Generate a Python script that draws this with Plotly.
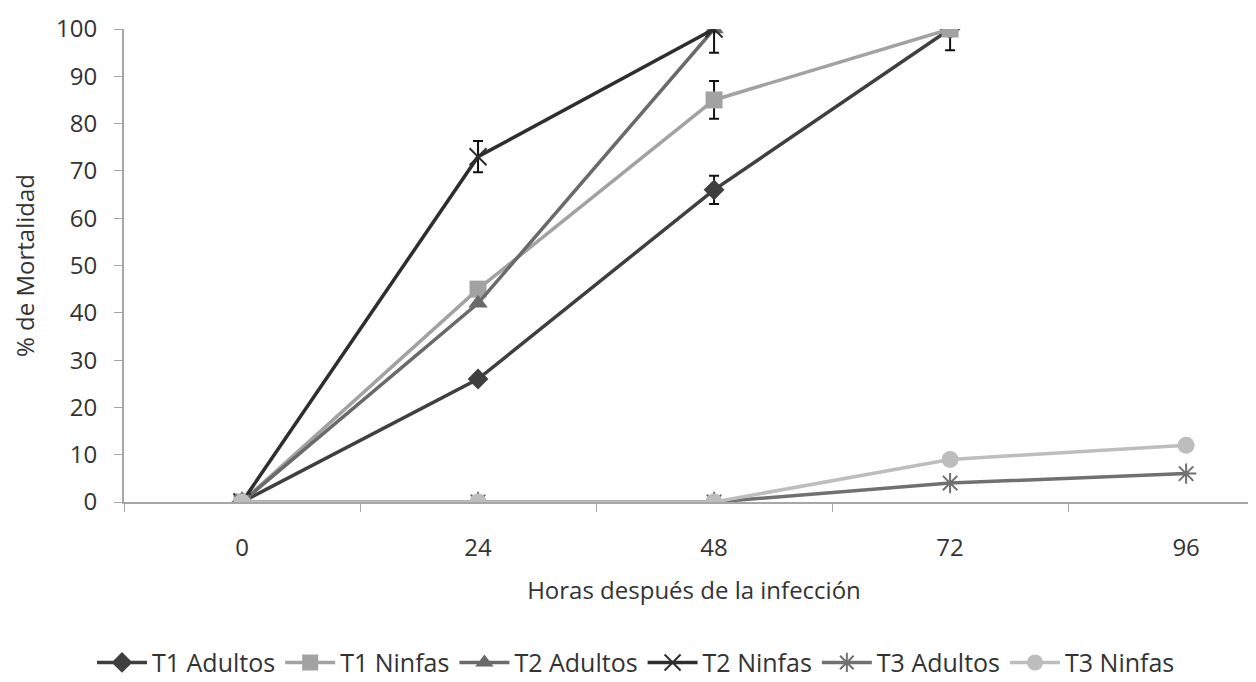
import plotly.graph_objects as go

hours = ["0", "24", "48", "72", "96"]

t1_adultos = [0, 26, 66, 100, None]
t1_ninfas = [0, 45, 85, 100, None]
t2_adultos = [0, 42, 100, None, None]
t2_ninfas = [0, 73, 100, None, None]
t3_adultos = [0, 0, 0, 4, 6]
t3_ninfas = [0, 0, 0, 9, 12]

nan = float("nan")
t1_adultos_err = [nan, nan, 3, 4.5, nan]
t1_ninfas_err = [nan, nan, 4, nan, nan]
t2_ninfas_err = [nan, 3.3, 5, nan, nan]

series = [
    ("T1 Adultos", t1_adultos, t1_adultos_err, "#3f3f3f", "diamond", 16),
    ("T1 Ninfas", t1_ninfas, t1_ninfas_err, "#a2a2a2", "square", 17),
    ("T2 Adultos", t2_adultos, None, "#6a6a6a", "triangle-up", 17),
    ("T2 Ninfas", t2_ninfas, t2_ninfas_err, "#2e2e2e", "x-thin", 17),
    ("T3 Adultos", t3_adultos, None, "#707070", "asterisk", 17),
    ("T3 Ninfas", t3_ninfas, None, "#bdbdbd", "circle", 17),
]

fig = go.Figure()
for name, ys, err, color, sym, size in series:
    marker = dict(symbol=sym, size=size, color=color)
    if sym in ("x-thin", "asterisk"):
        marker["line"] = dict(color=color, width=2)
    tr = go.Scatter(
        x=hours, y=ys, name=name, mode="lines+markers",
        line=dict(color=color, width=3.5),
        marker=marker,
    )
    if err is not None:
        tr.error_y = dict(type="data", array=err, visible=True,
                          color="#111111", thickness=2, width=5)
    fig.add_trace(tr)

font = "'Open Sans', Lato, sans-serif"
fig.update_layout(
    width=1256, height=682,
    paper_bgcolor="white", plot_bgcolor="white",
    margin=dict(l=116, r=0, t=21, b=188),
    font=dict(family=font, size=24, color="#333333"),
    showlegend=True,
    legend=dict(orientation="h", xref="container", yref="container",
                x=0.5, xanchor="center", y=0.04, yanchor="middle",
                font=dict(size=25, color="#333333"), itemwidth=50,
                traceorder="normal"),
    xaxis=dict(type="category", range=[-0.5, 4.33], showgrid=False,
               showline=True, linecolor="#a6a6a6", linewidth=2,
               ticks="outside", tickson="boundaries", ticklen=8,
               tickcolor="#a6a6a6", tickwidth=1,
               ticklabelstandoff=23,
               title=dict(text="Horas después de la infección", standoff=20,
                          font=dict(size=24))),
    yaxis=dict(range=[0, 100], dtick=10, showgrid=False, zeroline=False,
               showline=True, linecolor="#a6a6a6", linewidth=2,
               ticks="outside", ticklen=8, tickcolor="#a6a6a6",
               ticklabelstandoff=12,
               title=dict(text="% de Mortalidad", standoff=20,
                          font=dict(size=24))),
)

fig.write_html("out.html")
